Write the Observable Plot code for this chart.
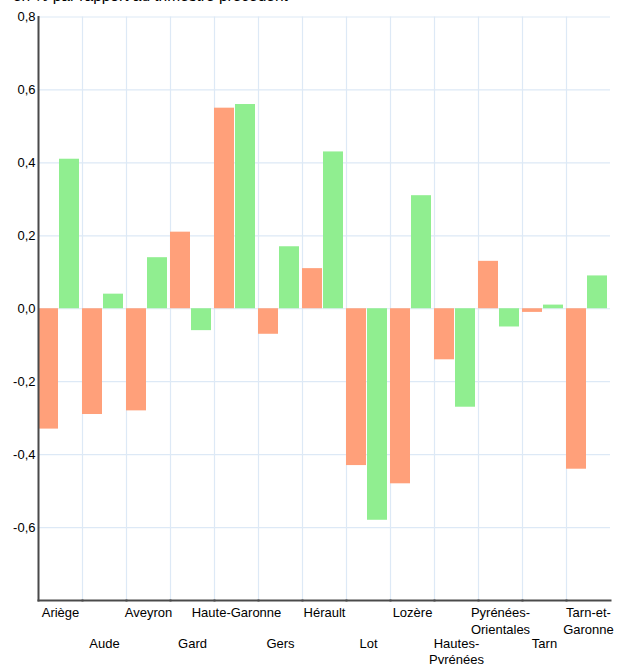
<!DOCTYPE html>
<html><head><meta charset="utf-8">
<script src="https://cdn.jsdelivr.net/npm/d3@7"></script>
<script src="https://cdn.jsdelivr.net/npm/@observablehq/plot@0.6"></script>
<style>
body{margin:0;background:#fff;font-family:"Liberation Sans",Arial,sans-serif;overflow:hidden}
#title{font-size:15.5px;line-height:18px;margin:-13px 0 0 13px;height:18px;white-space:nowrap;color:#000}
</style></head><body>
<div id="title">en % par rapport au trimestre précédent</div>
<div id="chart"></div>
<script>
const categories = ["Ariège","Aude","Aveyron","Gard","Haute-Garonne","Gers","Hérault","Lot","Lozère","Hautes-Pyrénées","Pyrénées-Orientales","Tarn","Tarn-et-Garonne"];
const seriesKeys = ["Série 1","Série 2"];
const values1 = [-0.33,-0.29,-0.28,0.21,0.55,-0.07,0.11,-0.43,-0.48,-0.14,0.13,-0.01,-0.44];
const values2 = [0.41,0.04,0.14,-0.06,0.56,0.17,0.43,-0.58,0.31,-0.27,-0.05,0.01,0.09];
const yTicks = [-0.6,-0.4,-0.2,0,0.2,0.4,0.6,0.8];
const tickLabels = {"Pyrénées-Orientales":"Pyrénées-\nOrientales","Hautes-Pyrénées":"Hautes-\nPyrénées","Tarn-et-Garonne":"Tarn-et-\nGaronne"};
const colors = ["#FFA07A","#90EE90"];

const data = categories.flatMap((c,i)=>[
  {cat:c, serie:seriesKeys[0], value:values1[i]},
  {cat:c, serie:seriesKeys[1], value:values2[i]}
]);
const fmt = d => d.toFixed(1).replace(".", ",");
const rowA = categories.filter((d,i)=>i%2===0);
const rowB = categories.filter((d,i)=>i%2===1);

const plot = Plot.plot({
  width:625, height:659,
  marginTop:11.5, marginBottom:64, marginLeft:38, marginRight:15,
  style:{fontFamily:'"Liberation Sans",Arial,sans-serif', fontSize:"13px", color:"#000", background:"#fff"},
  fx:{domain:categories, padding:0, axis:null, label:null},
  x:{domain:seriesKeys, paddingInner:0.04, paddingOuter:0.05, align:0, axis:null},
  y:{domain:[-0.8,0.8], axis:null},
  color:{domain:seriesKeys, range:colors},
  marks:[
    Plot.gridY(yTicks,{stroke:"#dde9f6", strokeOpacity:1, strokeWidth:1.2}),
    Plot.frame({anchor:"left", stroke:"#dde9f6", strokeWidth:1.2}),
    Plot.barY(data,{fx:"cat", x:"serie", y:"value", fill:"serie"}),
    Plot.frame({anchor:"left", stroke:"#4a4a4a", strokeWidth:2, facetAnchor:"left"}),
    Plot.frame({anchor:"bottom", stroke:"#4a4a4a", strokeWidth:2}),
    Plot.axisY({ticks:yTicks, tickSize:0, tickPadding:3, tickFormat:fmt, label:null, fill:"#000"}),
    Plot.axisFx({ticks:rowA, anchor:"bottom", tickSize:0, tickPadding:5, tickFormat:d=>tickLabels[d]??d, label:null, lineHeight:1.28, fill:"#000"}),
    Plot.axisFx({ticks:rowB, anchor:"bottom", tickSize:0, tickPadding:35, tickFormat:d=>tickLabels[d]??d, label:null, lineHeight:1.3, fill:"#000"})
  ]
});
document.getElementById("chart").appendChild(plot);
</script>
</body></html>
